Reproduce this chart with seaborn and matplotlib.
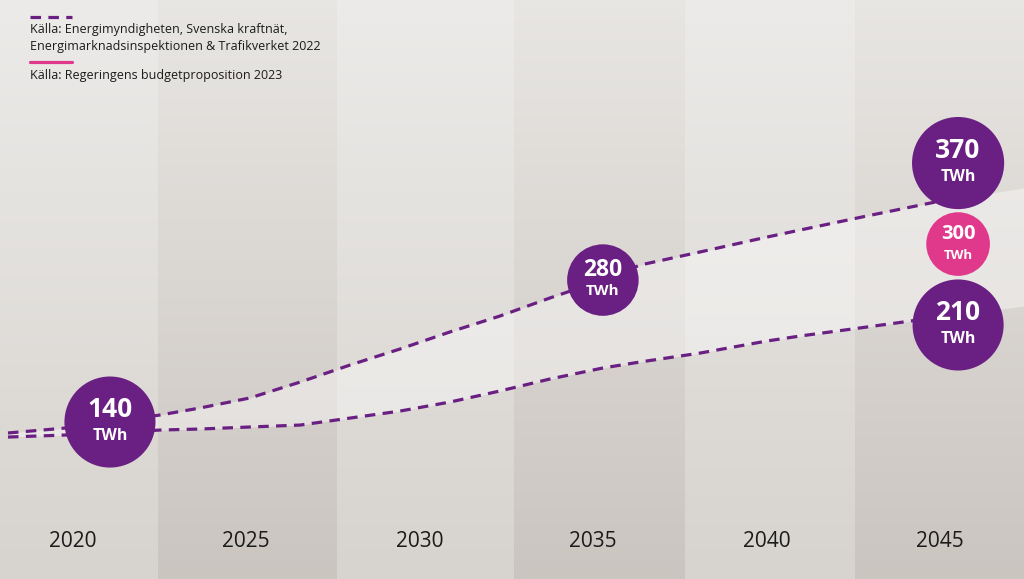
import numpy as np
import pandas as pd
import matplotlib.pyplot as plt
import seaborn as sns
from matplotlib.colors import LinearSegmentedColormap
from matplotlib.lines import Line2D

sns.set_theme(style="white")
plt.rcParams['font.family'] = ['Open Sans', 'DejaVu Sans']

# --- data ---
years = [2020, 2025, 2030, 2035, 2040, 2045]

# path of the two scenario curves (x = year, y = TWh-level on the chart scale)
curve_x = [2018.13, 2019.80, 2021.07, 2022.51, 2023.66, 2025.10, 2026.55,
           2027.99, 2029.43, 2030.87, 2032.31, 2033.75, 2035.28, 2036.35,
           2038.08, 2040.01, 2040.96, 2042.89, 2045.00, 2047.42]
high_curve = [129.2, 134.1, 140.0, 146.9, 153.8, 163.7, 179.4, 196.2, 212.0,
              228.8, 244.5, 262.3, 280.0, 294.8, 307.7, 322.4, 329.3, 343.2,
              357.9, 370.8]
low_curve = [125.2, 127.2, 129.2, 132.1, 133.1, 135.1, 137.0, 143.9, 150.8,
             159.7, 170.6, 182.4, 193.3, 199.2, 208.0, 219.9, 224.8, 233.7,
             243.6, 254.4]

# bubbles
bubble_year = [2021.07, 2035.28, 2045.52, 2045.52, 2045.52]
bubble_level = [140, 280, 395.4, 315.5, 235.7]
bubble_value = [140, 280, 370, 300, 210]
bubble_kind = ['prognos', 'prognos', 'prognos', 'budget', 'prognos']

legend_texts = ["Källa: Energimyndigheten, Svenska kraftnät,\nEnergimarknadsinspektionen & Trafikverket 2022",
                "Källa: Regeringens budgetproposition 2023"]

PURPLE = '#6a1f82'
PINK = '#e0398b'

curves = pd.DataFrame({'year': curve_x, 'high': high_curve, 'low': low_curve})
bubbles = pd.DataFrame({'year': bubble_year, 'level': bubble_level,
                        'value': bubble_value, 'kind': bubble_kind})

fig = plt.figure(figsize=(10.24, 5.79), dpi=100)
ax = fig.add_axes([0, 0, 1, 1])
x0, x1 = 2017.9, 2047.42
y0, y1 = -14.8, 556.2
ax.set_xlim(x0, x1)
ax.set_ylim(y0, y1)
ax.axis('off')

# background columns with vertical gradient
light = LinearSegmentedColormap.from_list('light', ['#d7d3ce', '#ecebe9'])
dark = LinearSegmentedColormap.from_list('dark', ['#cbc5c0', '#e8e6e3'])
grad = np.linspace(0, 1, 256).reshape(-1, 1)
edges = [x0, 2022.45, 2027.61, 2032.72, 2037.65, 2042.55, x1]
for i, yr in enumerate(years):
    cmap = light if i % 2 == 0 else dark
    ax.imshow(grad, cmap=cmap, origin='lower', aspect='auto',
              extent=[edges[i], edges[i + 1], y0, y1], zorder=0)
    ax.text(yr, 22.6, str(yr), ha='center', va='center', fontsize=15,
            color='#1b1b1b', zorder=5)

# light area between the two scenarios
ax.fill_between(curves['year'], curves['low'], curves['high'],
                color='white', alpha=0.4, lw=0, zorder=1)

# dashed curves (stop at the 2045 bubbles)
drawn = curves[curves['year'] <= 2045.0]
dash = (0, (3.3, 2.3))
sns.lineplot(data=drawn, x='year', y='high', ax=ax, color=PURPLE, lw=2.3,
             linestyle=dash, zorder=2)
sns.lineplot(data=drawn, x='year', y='low', ax=ax, color=PURPLE, lw=2.3,
             linestyle=dash, zorder=2)

# bubbles
sizes = [4300, 2650, 4400, 2100, 4300]
num_fs = [19, 16.5, 19, 14.5, 19]
unit_fs = [11.5, 11, 11.5, 9.5, 11.5]
colors = [PURPLE if k == 'prognos' else PINK for k in bubbles['kind']]
for i, row in bubbles.iterrows():
    sns.scatterplot(x=[row['year']], y=[row['level']], ax=ax, s=sizes[i],
                    color=colors[i], edgecolor='none', zorder=3, legend=False)
    off = 9 if sizes[i] > 3000 else 7
    ax.annotate(str(row['value']), (row['year'], row['level']),
                xytext=(0, off), textcoords='offset points', ha='center',
                va='center', fontsize=num_fs[i], fontweight='bold',
                color='white', zorder=4)
    ax.annotate('TWh', (row['year'], row['level']),
                xytext=(0, -off - 1), textcoords='offset points', ha='center',
                va='center', fontsize=unit_fs[i], fontweight='bold',
                color='white', zorder=4)

# legend (top left)
def fx(px):
    return px / 1024

def fy(py):
    return 1 - py / 579

fig.add_artist(Line2D([fx(30), fx(72)], [fy(17), fy(17)], color=PURPLE,
                      lw=2.3, linestyle=(0, (3.3, 2.3)), transform=fig.transFigure))
fig.text(fx(30), fy(38), legend_texts[0], ha='left', va='center', fontsize=9,
         color='#1b1b1b', linespacing=1.35)
fig.add_artist(Line2D([fx(30), fx(72)], [fy(62), fy(62)], color=PINK,
                      lw=2.3, transform=fig.transFigure))
fig.text(fx(30), fy(76), legend_texts[1], ha='left', va='center', fontsize=9,
         color='#1b1b1b')

plt.savefig('out.png', dpi=100)
